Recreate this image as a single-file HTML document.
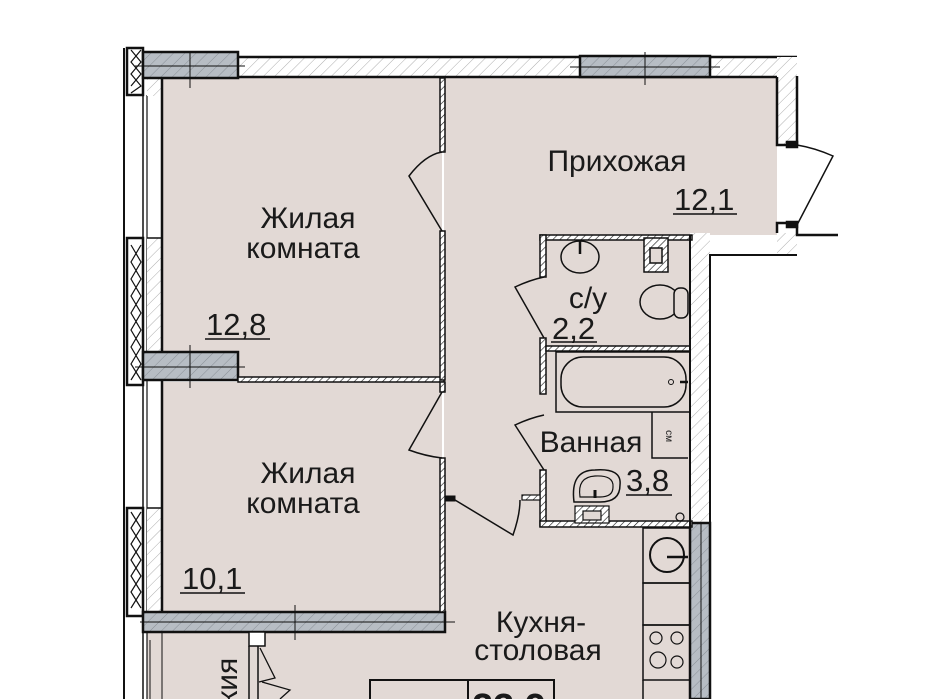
<!DOCTYPE html>
<html><head><meta charset="utf-8"><style>
html,body{margin:0;padding:0;background:#fff;width:945px;height:699px;overflow:hidden;}
svg{display:block;overflow:hidden;}
text{font-family:"Liberation Sans",sans-serif;fill:#1a1a1a;}
</style></head><body>
<svg width="945" height="699" viewBox="0 0 945 699" xmlns="http://www.w3.org/2000/svg">
<defs>
<pattern id="h" width="8" height="8" patternUnits="userSpaceOnUse" patternTransform="rotate(45)">
<rect width="8" height="8" fill="#fff"/><line x1="0" y1="0" x2="0" y2="8" stroke="#999" stroke-width="0.8"/></pattern>
<pattern id="hg" width="8" height="8" patternUnits="userSpaceOnUse" patternTransform="rotate(45)">
<rect width="8" height="8" fill="#b7bdc4"/><line x1="0" y1="0" x2="0" y2="8" stroke="#7d838a" stroke-width="0.8"/></pattern>
<pattern id="hw" width="5" height="5" patternUnits="userSpaceOnUse" patternTransform="rotate(45)">
<rect width="5" height="5" fill="#fff"/><line x1="0" y1="0" x2="0" y2="5" stroke="#111" stroke-width="1.2"/></pattern>
</defs>
<g stroke="#111" stroke-width="2.5" fill="none">
<rect x="162" y="78" width="280" height="302" fill="#e2d9d5" stroke="none"/>
<rect x="162" y="382" width="280" height="230" fill="#e2d9d5" stroke="none"/>
<rect x="444" y="78" width="333" height="157" fill="#e2d9d5" stroke="none"/>
<rect x="444" y="232" width="248" height="467" fill="#e2d9d5" stroke="none"/>
<rect x="147" y="632" width="300" height="67" fill="#e2d9d5" stroke="none"/>
<rect x="542" y="236" width="148" height="290" fill="#e2d9d5" stroke="none"/>

<rect x="238" y="57" width="539" height="20" fill="url(#h)" stroke="none"/>
<line x1="238" y1="57" x2="797" y2="57"/>
<line x1="238" y1="77" x2="777" y2="77"/>
<rect x="580" y="56" width="130" height="21" fill="url(#hg)"/>
<line x1="570" y1="67" x2="720" y2="67" stroke-width="1"/>
<line x1="645" y1="52" x2="645" y2="85" stroke-width="1"/>
<rect x="777" y="57" width="20" height="88" fill="url(#h)" stroke="none"/>
<polyline points="777,77 777,145 797,145 797,76"/>
<rect x="787" y="142" width="10" height="5" fill="#111"/>
<path d="M797,145 Q815,148 833,156 L797,225" stroke-width="1.5"/>
<rect x="777" y="233" width="20" height="22" fill="url(#h)" stroke="none"/>
<rect x="690" y="233" width="20" height="290" fill="url(#h)" stroke="none"/>
<polyline points="777,233 777,223 797,223 797,235 838,235"/>
<rect x="787" y="222" width="10" height="5" fill="#111"/>
<polyline points="797,255 710,255 710,699" stroke-width="2"/>
<rect x="690" y="523" width="20" height="176" fill="url(#hg)"/>
<line x1="701" y1="523" x2="701" y2="699" stroke-width="1"/>

<line x1="124" y1="48" x2="124" y2="699" stroke-width="2"/>
<line x1="143" y1="48" x2="143" y2="699" stroke-width="1.5"/>
<line x1="147" y1="95" x2="147" y2="699" stroke-width="1.2"/>
<g fill="#fff">
<rect x="127" y="48" width="16" height="47"/>
<rect x="127" y="238" width="16" height="147"/>
<rect x="127" y="508" width="16" height="108"/>
</g>
<g stroke-width="1.2">
<path d="M131,50 L141,62 L131,74 L141,86 L131,93 M141,50 L131,62 L141,74 L131,86"/>
<path d="M131,245 L141,262 L131,279 L141,296 L131,313 L141,330 L131,347 L141,364 L131,380 M141,245 L131,262 L141,279 L131,296 L141,313 L131,330 L141,347 L131,364 L141,380"/>
<path d="M131,512 L141,528 L131,544 L141,560 L131,576 L141,592 L131,608 M141,512 L131,528 L141,544 L131,560 L141,576 L131,592 L141,608"/>
</g>
<rect x="147" y="78" width="15" height="18" fill="url(#h)" stroke="none"/>
<rect x="147" y="238" width="15" height="114" fill="url(#h)" stroke="none"/>
<rect x="147" y="508" width="15" height="104" fill="url(#h)" stroke="none"/>
<line x1="162" y1="78" x2="162" y2="612"/>
<polyline points="147,238 162,238" stroke-width="1.5"/>
<polyline points="147,508 162,508" stroke-width="1.5"/>
<line x1="150" y1="640" x2="150" y2="699" stroke-width="1"/>
<line x1="162" y1="632" x2="162" y2="699" stroke-width="1"/>

<rect x="143" y="52" width="95" height="26" fill="url(#hg)"/>
<line x1="135" y1="66" x2="245" y2="66" stroke-width="1"/>
<line x1="190" y1="52" x2="190" y2="88" stroke-width="1"/>
<rect x="143" y="352" width="95" height="28" fill="url(#hg)"/>
<line x1="135" y1="367" x2="245" y2="367" stroke-width="1"/>
<line x1="190" y1="345" x2="190" y2="388" stroke-width="1"/>
<rect x="238" y="377" width="206" height="5" fill="url(#hw)" stroke-width="1.5"/>
<rect x="143" y="612" width="302" height="20" fill="url(#hg)"/>
<line x1="140" y1="622" x2="455" y2="622" stroke-width="1"/>
<line x1="295" y1="605" x2="295" y2="640" stroke-width="1"/>

<rect x="440" y="78" width="5" height="74" fill="url(#hw)" stroke-width="1.5"/>
<rect x="440" y="231" width="5" height="149" fill="url(#hw)" stroke-width="1.5"/>
<path d="M442,152 Q425,155 409,176 L442,231" stroke-width="1.5"/>
<rect x="440" y="382" width="5" height="10" fill="url(#hw)" stroke-width="1.5"/>
<rect x="440" y="458" width="5" height="154" fill="url(#hw)" stroke-width="1.5"/>
<path d="M442,392 L409,450 Q425,456 442,458" stroke-width="1.5"/>
<rect x="445" y="496" width="10" height="5" fill="#111" stroke-width="1"/>
<path d="M455,500 L513,535 Q520,515 520,500" stroke-width="1.5"/>

<rect x="540" y="235" width="152" height="5" fill="url(#hw)" stroke-width="1.5"/>
<rect x="540" y="235" width="6" height="42" fill="url(#hw)" stroke-width="1.5"/>
<path d="M544,277 Q530,280 515,287 L544,338" stroke-width="1.5"/>
<rect x="540" y="338" width="6" height="56" fill="url(#hw)" stroke-width="1.5"/>
<rect x="546" y="346" width="144" height="5" fill="url(#hw)" stroke-width="1.5"/>
<path d="M544,415 Q530,418 515,425 L544,470" stroke-width="1.5"/>
<rect x="540" y="470" width="6" height="56" fill="url(#hw)" stroke-width="1.5"/>
<rect x="522" y="495" width="18" height="5" fill="url(#hw)" stroke-width="1.2"/>
<rect x="540" y="521" width="152" height="6" fill="url(#hw)" stroke-width="1.5"/>
<line x1="690" y1="235" x2="690" y2="699" stroke-width="2"/>
<ellipse cx="580" cy="257" rx="19" ry="16" stroke-width="1.5"/>
<line x1="580" y1="240" x2="580" y2="254" stroke-width="2.5"/>
<rect x="644" y="238" width="24" height="34" fill="url(#hw)" stroke-width="1.5"/>
<rect x="650" y="248" width="12" height="15" fill="#e2d9d5" stroke-width="1.5"/>
<ellipse cx="660" cy="302" rx="20" ry="17" stroke-width="1.5"/>
<rect x="674" y="288" width="14" height="30" rx="6" fill="#e2d9d5" stroke-width="1.5"/>
<rect x="556" y="352" width="134" height="60" stroke-width="1.5"/>
<rect x="561" y="357" width="125" height="50" rx="22" stroke-width="1.5"/>
<circle cx="671" cy="382" r="2.5" stroke-width="1"/>
<line x1="680" y1="382" x2="688" y2="382"/>
<polyline points="652,412 652,458 688,458" stroke-width="1.5"/>
<text x="0" y="0" font-size="10" transform="translate(666,436) rotate(90)" stroke="none" fill="#222" text-anchor="middle">см</text>
<path d="M574,502 Q570,470 595,470 Q622,468 620,485 Q620,502 600,502 Z" stroke-width="1.5"/>
<path d="M580,497 Q577,477 595,476 Q614,475 613,487 Q613,497 600,497 Z" stroke-width="1.2"/>
<line x1="595" y1="490" x2="595" y2="498" stroke-width="3"/>
<rect x="575" y="506" width="34" height="17" fill="url(#hw)" stroke-width="1.2"/>
<rect x="583" y="511" width="18" height="9" fill="#e2d9d5" stroke-width="1.2"/>
<circle cx="680" cy="517" r="4" stroke-width="1.2"/>
<rect x="643" y="528" width="47" height="55" stroke-width="1.5"/>
<circle cx="667" cy="555" r="17" stroke-width="2"/>
<line x1="667" y1="557" x2="688" y2="557"/>
<rect x="643" y="583" width="47" height="42" stroke-width="1.5"/>
<rect x="643" y="625" width="47" height="55" stroke-width="1.5"/>
<circle cx="656" cy="638" r="6" stroke-width="1.2"/>
<circle cx="677" cy="638" r="6" stroke-width="1.2"/>
<circle cx="658" cy="660" r="8" stroke-width="1.2"/>
<circle cx="677" cy="662" r="6" stroke-width="1.2"/>
<line x1="643" y1="680" x2="643" y2="699" stroke-width="1.5"/>
<rect x="249" y="632" width="16" height="14" fill="#fff" stroke-width="1.5"/>
<line x1="249" y1="646" x2="249" y2="699" stroke-width="1.5"/>
<line x1="258" y1="646" x2="258" y2="699" stroke-width="1.5"/>
<path d="M260,648 L275,678 L259,682 M262,682 L290,690 L280,699" stroke-width="1.3"/>
<rect x="370" y="680" width="184" height="25" fill="#e2d9d5" stroke-width="2"/>
<line x1="468" y1="680" x2="468" y2="699" stroke-width="2"/>
</g>
<g font-size="30" text-anchor="middle">
<text x="308" y="228">Жилая</text>
<text x="303" y="258">комната</text>
<text x="308" y="483">Жилая</text>
<text x="303" y="513">комната</text>
<text x="617" y="171">Прихожая</text>
<text x="541" y="632">Кухня-</text>
<text x="538" y="660">столовая</text>
<text x="588" y="308">с/у</text>
<text x="591" y="452">Ванная</text>
<text x="0" y="0" transform="translate(237,764) rotate(-90)" text-anchor="start">Лоджия</text>
</g>
<g font-size="31">
<text x="206" y="335">12,8</text>
<text x="182" y="589">10,1</text>
<text x="674" y="210">12,1</text>
<text x="552" y="339">2,2</text>
<text x="626" y="491">3,8</text>
<text x="472" y="720" font-weight="bold" font-size="38">23,9</text>
</g>
<g stroke="#111" stroke-width="1.5">
<line x1="205" y1="339" x2="270" y2="339"/>
<line x1="180" y1="593" x2="245" y2="593"/>
<line x1="673" y1="214" x2="737" y2="214"/>
<line x1="551" y1="342" x2="597" y2="342"/>
<line x1="626" y1="495" x2="672" y2="495"/>
</g>
</svg>
</body></html>
